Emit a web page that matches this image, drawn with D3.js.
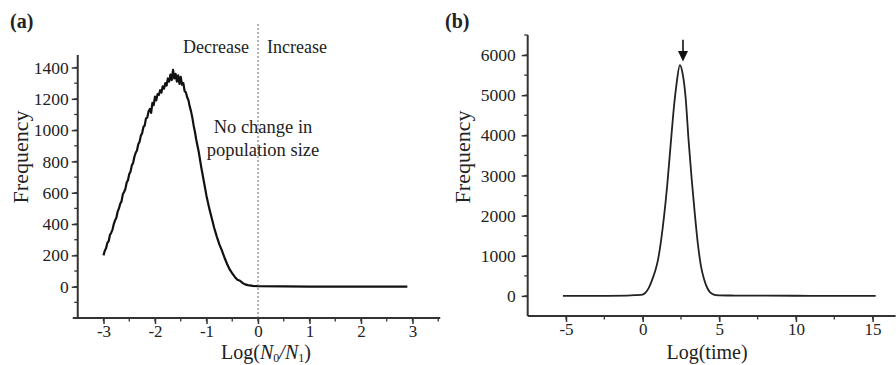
<!DOCTYPE html>
<html><head><meta charset="utf-8">
<script src="https://cdn.jsdelivr.net/npm/d3@7"></script>
<style>
html,body{margin:0;padding:0;background:#fff;}
svg text{font-family:"Liberation Serif","Times New Roman",serif;fill:#222;}
</style></head>
<body><svg id="c" width="896" height="365"></svg>
<script>
// ---------- Panel (a) data ----------
const aX = [-3.000,-2.975,-2.950,-2.925,-2.900,-2.875,-2.850,-2.825,-2.800,-2.775,-2.750,-2.725,-2.700,-2.675,-2.650,-2.625,-2.600,-2.575,-2.550,-2.525,-2.500,-2.475,-2.450,-2.425,-2.400,-2.375,-2.350,-2.325,-2.300,-2.275,-2.250,-2.225,-2.200,-2.175,-2.150,-2.125,-2.100,-2.075,-2.050,-2.025,-2.000,-1.975,-1.950,-1.925,-1.900,-1.875,-1.850,-1.825,-1.800,-1.775,-1.750,-1.725,-1.700,-1.675,-1.650,-1.625,-1.600,-1.575,-1.550,-1.525,-1.500,-1.475,-1.450,-1.425,-1.400,-1.375,-1.350,-1.325,-1.300,-1.275,-1.250,-1.225,-1.200,-1.15,-1.10,-1.05,-1.00,-0.95,-0.90,-0.85,-0.80,-0.75,-0.70,-0.65,-0.60,-0.55,-0.50,-0.45,-0.40,-0.35,-0.30,-0.25,-0.20,-0.10,0.00,0.50,1.00,2.00,2.90];
const aY = [200,230,245,280,290,330,345,365,400,425,440,480,500,530,545,590,605,625,665,680,720,735,775,790,830,855,870,910,925,965,980,1020,1030,1075,1080,1120,1135,1110,1175,1160,1215,1190,1230,1225,1255,1240,1280,1265,1300,1285,1330,1310,1355,1320,1385,1330,1360,1310,1350,1295,1340,1290,1300,1250,1240,1210,1190,1150,1120,1080,1030,990,940,860,760,670,580,505,440,375,320,270,230,185,145,110,85,62,45,38,24,15,10,5,3,2,1,0,0];
const aXTicks = [-3,-2,-1,0,1,2,3];
const aYTicks = [0,200,400,600,800,1000,1200,1400];

// ---------- Panel (b) data ----------
const bX = [-5.2,-3,-1,-0.5,0,0.2,0.4,0.6,0.8,1.0,1.2,1.4,1.6,1.8,2.0,2.2,2.43,2.6,2.8,3.0,3.2,3.4,3.6,3.8,4.0,4.2,4.4,4.6,4.8,5.0,6,8,10,12,15.2];
const bY = [0,2,8,18,35,90,200,380,600,900,1380,2000,2750,3650,4550,5250,5750,5550,4950,3850,2900,2050,1300,750,420,210,90,40,20,15,10,6,4,2,0];
const bXTicks = [-5,0,5,10,15];
const bYTicks = [0,1000,2000,3000,4000,5000,6000];

const svg = d3.select("#c");
const axisColor = "#333";
const fmt = d => String(d);

function panel(o){
  const x = d3.scaleLinear().domain(o.xd).range(o.xr);
  const y = d3.scaleLinear().domain(o.yd).range(o.yr);
  const g = svg.append("g");
  g.append("line").attr("x1",o.xr[0]-o.xExtL).attr("x2",o.xr[1]+o.xExtR)
    .attr("y1",o.yr[0]).attr("y2",o.yr[0]).attr("stroke",axisColor).attr("stroke-width",2);
  g.append("line").attr("x1",o.xr[0]).attr("x2",o.xr[0])
    .attr("y1",o.yr[0]).attr("y2",o.yr[1]).attr("stroke",axisColor).attr("stroke-width",2);
  const xm = d3.range(o.xd[0], o.xd[1]+1e-9, o.xMinor).filter(v=>v>o.xd[0]+1e-9);
  g.selectAll(".xm").data(xm).join("line")
    .attr("x1",d=>x(d)).attr("x2",d=>x(d)).attr("y1",o.yr[0]).attr("y2",o.yr[0]+3.5)
    .attr("stroke",axisColor).attr("stroke-width",1.3);
  const ym = d3.range(o.yd[0], o.yd[1]+1e-9, o.yMinor).filter(v=>v>o.yd[0]+1e-9);
  g.selectAll(".ym").data(ym).join("line")
    .attr("y1",d=>y(d)).attr("y2",d=>y(d)).attr("x1",o.xr[0]).attr("x2",o.xr[0]-3.5)
    .attr("stroke",axisColor).attr("stroke-width",1.3);
  const xa = d3.axisBottom(x).tickValues(o.xt).tickSize(6).tickPadding(1).tickFormat(fmt);
  const gx = g.append("g").attr("transform",`translate(0,${o.yr[0]})`).call(xa);
  gx.select(".domain").remove();
  gx.selectAll("line").attr("stroke",axisColor).attr("stroke-width",1.5);
  gx.selectAll("text").attr("font-size",17).attr("font-family","Liberation Serif").attr("fill","#222");
  const ya = d3.axisLeft(y).tickValues(o.yt).tickSize(6).tickPadding(o.yPad).tickFormat(fmt);
  const gy = g.append("g").attr("transform",`translate(${o.xr[0]},0)`).call(ya);
  gy.select(".domain").remove();
  gy.selectAll("line").attr("stroke",axisColor).attr("stroke-width",1.5);
  gy.selectAll("text").attr("font-size",17.5).attr("font-family","Liberation Serif").attr("fill","#222");
  const pts = o.dx.map((v,i)=>[v,o.dy[i]]);
  g.append("path").datum(pts)
    .attr("d", d3.line().x(d=>x(d[0])).y(d=>y(d[1])).curve(o.curve))
    .attr("fill","none").attr("stroke",o.lc).attr("stroke-width",o.lw).attr("stroke-linejoin","round");
  return {x,y,g};
}

const A = panel({xd:[-3.5,3.5], xr:[77.75,438.25], yd:[-200,1480], yr:[318,55],
  xExtL:5, xExtR:2, xMinor:0.5, yMinor:100, xt:aXTicks, yt:aYTicks, yPad:3,
  dx:aX, dy:aY, lc:"#111", lw:2.2, curve:d3.curveLinear});

A.g.append("line").attr("x1",A.x(0)).attr("x2",A.x(0)).attr("y1",24).attr("y2",318)
  .attr("stroke","#666").attr("stroke-width",1).attr("stroke-dasharray","2,2");

const B = panel({xd:[-7.5,16.5], xr:[527.7,895.6], yd:[-500,6500], yr:[316,35],
  xExtL:0, xExtR:0, xMinor:2.5, yMinor:500, xt:bXTicks, yt:bYTicks, yPad:6,
  dx:bX, dy:bY, lc:"#222", lw:1.8, curve:d3.curveMonotoneX});

const arX = 2.63;
B.g.append("line").attr("x1",B.x(arX)).attr("x2",B.x(arX)).attr("y1",B.y(6380)).attr("y2",B.y(6000))
  .attr("stroke","#111").attr("stroke-width",1.6);
B.g.append("path")
  .attr("d",`M${B.x(arX)-5},${B.y(6100)} L${B.x(arX)+5},${B.y(6100)} L${B.x(arX)},${B.y(5840)} Z`)
  .attr("fill","#111");

function txt(x,y,s,size,anchor,weight){
  return svg.append("text").attr("x",x).attr("y",y).attr("font-size",size)
    .attr("text-anchor",anchor||"middle").attr("font-weight",weight||"normal").text(s);
}
txt(10,28,"(a)",20,"start","bold");
txt(445,28,"(b)",20,"start","bold");
txt(216,53,"Decrease",18);
txt(297,53,"Increase",18);
txt(263,133,"No change in",18.5);
txt(263,156,"population size",18.5);

svg.append("text").attr("transform","translate(28,157) rotate(-90)").attr("text-anchor","middle")
  .attr("font-size",22).text("Frequency");
svg.append("text").attr("transform","translate(470,157) rotate(-90)").attr("text-anchor","middle")
  .attr("font-size",22).text("Frequency");

const xl = svg.append("text").attr("x",266).attr("y",359).attr("text-anchor","middle").attr("font-size",20);
xl.append("tspan").text("Log(");
xl.append("tspan").attr("font-style","italic").text("N");
xl.append("tspan").attr("font-size",12).attr("dy",3).text("0");
xl.append("tspan").attr("dy",-3).attr("font-style","italic").text("/N");
xl.append("tspan").attr("font-size",12).attr("dy",3).text("1");
xl.append("tspan").attr("dy",-3).text(")");
txt(707,359,"Log(time)",20);
</script></body></html>
